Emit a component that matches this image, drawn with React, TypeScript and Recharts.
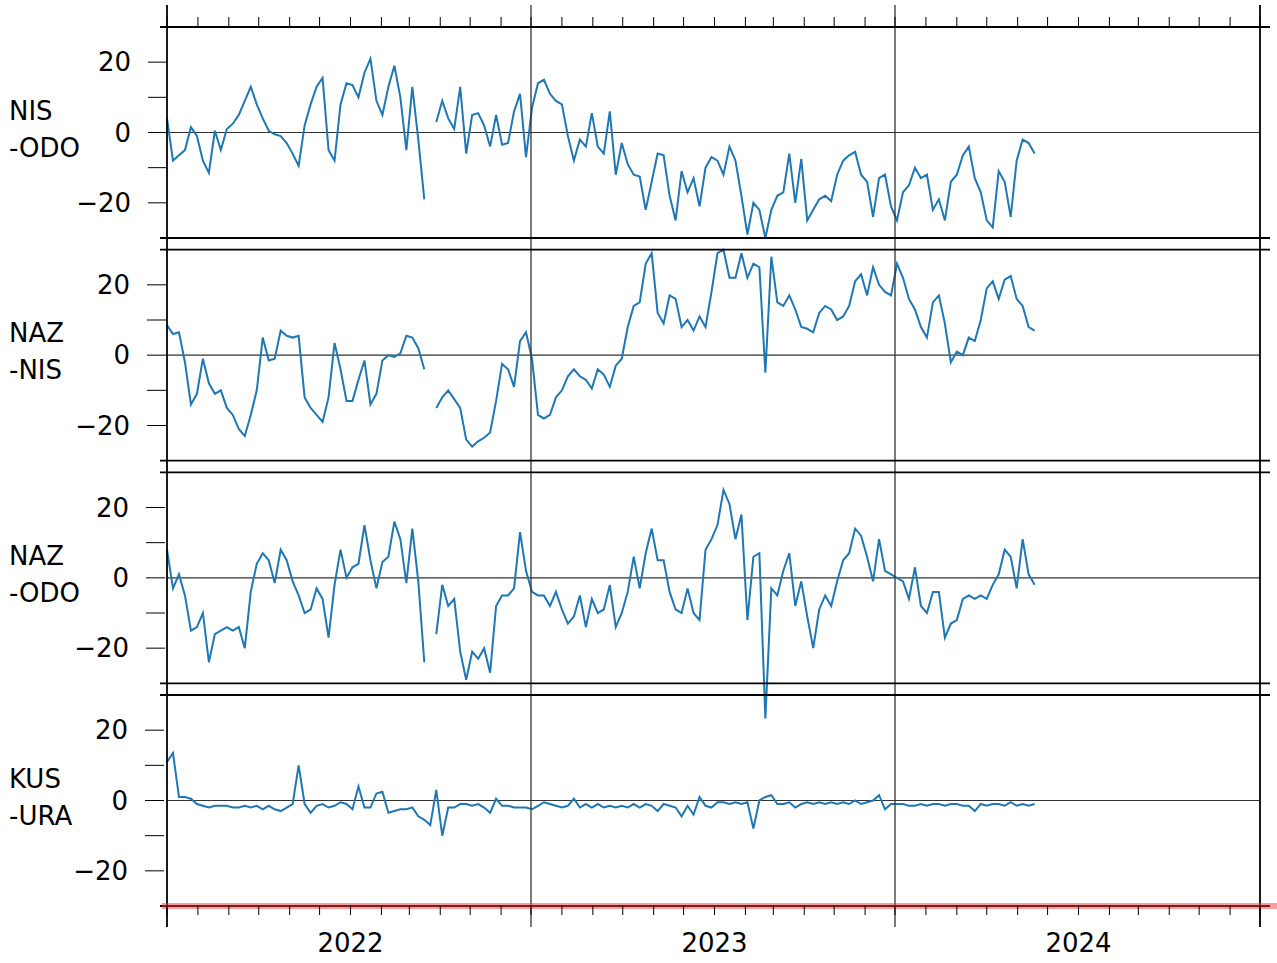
import { LineChart, Line, XAxis, YAxis, ReferenceLine } from "recharts";

const DAY = 86400000;
const START = Date.UTC(2021, 6, 1);
const END = Date.UTC(2024, 6, 1);
const STEP_DAYS = 6;

const panelNames = [
  ["NIS", "-ODO"],
  ["NAZ", "-NIS"],
  ["NAZ", "-ODO"],
  ["KUS", "-URA"],
];

// one value every 6 days from 2021-07-01
const nisOdo = [
  4, -8, -6.5, -5, 1.5, -1, -8, -11.5, 0.5, -5,
  1, 2.5, 5, 9, 13, 8, 4, 0.5, -0.5, -1,
  -3, -6, -9.5, 2, 8, 13, 15.5, -5, -8, 8,
  14, 13.5, 10, 17, 21, 9, 5, 13, 19, 10,
  -5, 13, -2, -19, null, 3, 9, 4, 1, 13,
  -6, 5, 5.5, 2, -4, 5, -3.5, -3, 6, 11,
  -7, 7, 14, 15, 11, 9, 8, -1, -8, -2,
  -4, 5.5, -4, -6, 6, -12, -3, -9, -12, -12.5,
  -22, -14, -6, -6.5, -18, -25, -11, -17, -13, -21,
  -10, -7, -8, -12, -4, -8, -18, -29, -20, -22,
  -30, -22, -18, -17, -6, -20, -7.5, -25, -22, -19,
  -18, -19.5, -12, -8, -6.5, -5.5, -12, -14, -24, -13,
  -12, -21, -25, -17, -15, -10, -13, -12, -22, -19,
  -25, -14, -12, -6.5, -4, -13, -17, -25, -27, -11,
  -14, -24, -8, -2, -3, -6,
];

const nazNis = [
  8.5, 6, 6.5, -2, -14, -11, -1, -8, -11, -10,
  -15, -17, -21, -23, -17, -10, 5, -1.5, -1, 7,
  5.5, 5, 5.5, -12, -15, -17, -19, -12, 3.5, -4,
  -13, -13, -7, -1.5, -14, -11, -1.5, 0, -0.5, 0.5,
  5.5, 5, 2, -4, null, -15, -12, -10, -12.5, -15,
  -24, -26, -24.5, -23.5, -22, -13, -2.5, -4, -9, 4,
  6.5, -1, -17, -18, -17, -12, -10, -6, -4, -6,
  -7, -9.5, -4, -5.5, -9, -3, -1, 8, 14, 15,
  26, 29, 12, 9, 17, 16, 8, 10, 7, 11,
  8, 18, 29, 30, 22, 22, 29, 22, 26, 25,
  -5, 28, 15, 14, 17, 13, 8, 7.5, 6.5, 12,
  14, 13, 10, 11, 14, 21, 23, 17, 25, 20,
  18, 17, 26, 22, 16, 13, 8, 5, 15, 17,
  9, -2, 1, 0, 5, 4, 10, 19, 21, 16,
  21.5, 22.5, 16, 14, 8, 7,
];

const nazOdo = [
  8, -3, 1, -5, -15, -14, -10, -24, -16, -15,
  -14, -15, -14, -20, -4, 4, 7, 5, -1.5, 8,
  5, -1, -5, -10, -9, -3, -6, -17, -2, 8,
  0, 3, 4, 15, 5, -3, 4.5, 6, 16, 11,
  -1.5, 14, -1, -24, null, -16, -2, -8, -6, -21,
  -29, -21, -23, -20, -27, -8, -5, -5, -3, 13,
  2, -4, -5, -5, -8, -4, -9, -13, -11, -5,
  -14, -6, -10, -9, -2, -14, -10, -4, 6, -3,
  7, 14, 5, 5, -4, -9, -10, -3, -10, -12,
  8, 11, 15, 25, 21, 11, 18, -12, 6, 7,
  -40, -3, -5, 2, 7, -8, -1, -11, -20, -9,
  -5, -8, -1, 5, 7, 14, 12, 6, -1, 11,
  2, 1, 0, -1, -6, 3, -8, -10, -4, -4,
  -17, -13, -12, -6, -5, -6, -5, -6, -2, 1,
  8, 6, -3, 11, 1, -2,
];

const kusUra = [
  11, 13.5, 1, 1, 0.5, -1, -1.5, -2, -1.5, -1.5,
  -1.5, -2, -2, -1.5, -2, -1.5, -2.5, -1.5, -2.5, -3,
  -2, -1, 10, -1, -3.5, -1.5, -1, -2, -1.5, -0.5,
  -1, -2.5, 4, -2, -2, 2, 2.5, -3.5, -3, -2.5,
  -2.5, -2, -4.5, -5.5, -7, 3, -10, -2, -2, -1,
  -1, -1.5, -1, -2, -3.5, 0.5, -1.5, -1.5, -2, -2,
  -2, -2.5, -1.5, -0.5, -1, -1.5, -2, -1.5, 0.5, -2,
  -1, -2, -1, -2, -1.5, -2, -1.5, -2, -1, -2,
  -1, -1.5, -3, -1, -1.5, -2, -4.5, -1.5, -4, 1,
  -1.5, -2, -0.5, -0.5, -1, -0.5, -1, -0.5, -8, 0,
  1, 1.5, -1, -1, -0.5, -2, -1, -0.5, -1, -0.5,
  -1, -0.5, -1, -0.5, -1, 0, -1, -0.5, 0, 1.5,
  -2.5, -1, -1, -1, -1.5, -1.5, -1, -1.5, -1, -1,
  -1.5, -1, -1, -1.5, -1.5, -3, -1, -1.5, -1, -1,
  -1.5, -0.5, -1.5, -1, -1.5, -1,
];

const yTicks = [-20, -10, 0, 10, 20];
const yearLabels = ["2022", "2023", "2024"];

const monthTicks: number[] = [];
for (let y = 2021; y <= 2024; y++) {
  for (let m = 0; m < 12; m++) {
    const t = Date.UTC(y, m, 1);
    if (t >= START && t <= END) monthTicks.push(t);
  }
}
const julyLines = [2021, 2022, 2023, 2024].map((y) => Date.UTC(y, 6, 1));

const data = nisOdo.map((_, i) => ({
  t: START + i * STEP_DAYS * DAY,
  s0: nisOdo[i],
  s1: nazNis[i],
  s2: nazOdo[i],
  s3: kusUra[i],
}));

// layout
const W = 1277;
const H = 963;
const LEFT = 167;
const RIGHT = 17;
const TOP = 27;
const PLOT_H = 879;
const PANEL_H = 211;
const GAP = (PLOT_H - 4 * PANEL_H) / 3;
const S = 60 / PANEL_H; // units per px

const domainFor = (k: number): [number, number] => {
  const hi = 30 + k * (PANEL_H + GAP) * S;
  return [hi - PLOT_H * S, hi];
};
const yPx = (px: number) => 30 - (px - TOP) * S; // on panel 0 axis
const xPx = (px: number) =>
  START + ((px - LEFT) / (W - LEFT - RIGHT)) * (END - START);

const FONT = "DejaVu Sans, sans-serif";
const BLUE = "#1f77b4";

const yearFormatter = (v: number) => {
  const d = new Date(v);
  if (d.getUTCMonth() !== 0) return "";
  return yearLabels[d.getUTCFullYear() - 2022] ?? "";
};
const yFormatter = (v: number) =>
  v === 10 || v === -10 ? "" : v < 0 ? `\u2212${-v}` : `${v}`;

export default function App() {
  return (
    <div style={{ position: "absolute", left: 0, top: 0, width: W, height: H, background: "#fff" }}>
      <LineChart
        width={W}
        height={H}
        data={data}
        margin={{ top: TOP - 1, right: RIGHT, bottom: H - TOP - PLOT_H - 1, left: LEFT - 4 }}
        style={{ fontFamily: FONT }}
      >
        <XAxis
          xAxisId="b"
          dataKey="t"
          type="number"
          domain={[START, END]}
          ticks={monthTicks}
          interval={0}
          height={1}
          axisLine={false}
          tickSize={9}
          tickMargin={19}
          stroke="#000"
          tickFormatter={yearFormatter}
          tick={{ fill: "#000", fontSize: 26, fontFamily: FONT }}
        />
        <XAxis
          xAxisId="t"
          orientation="top"
          dataKey="t"
          type="number"
          domain={[START, END]}
          ticks={monthTicks}
          interval={0}
          height={1}
          axisLine={false}
          tickSize={10}
          stroke="#000"
          tickFormatter={() => ""}
        />
        {[0, 1, 2, 3].map((k) => (
          <YAxis
            key={k}
            yAxisId={`p${k}`}
            type="number"
            domain={domainFor(k)}
            ticks={yTicks}
            interval={0}
            width={1}
            axisLine={false}
            tickSize={19}
            tickMargin={17}
            stroke="#000"
            tickFormatter={yFormatter}
            tick={{ fill: "#000", fontSize: 26, fontFamily: FONT }}
          />
        ))}
        {[0, 1, 2, 3].map((k) => (
          <ReferenceLine
            key={`z${k}`}
            xAxisId="b"
            yAxisId={`p${k}`}
            y={0}
            stroke="#333"
            strokeWidth={1.2}
          />
        ))}
        {[0, 1, 2, 3].map((k) => (
          <Line
            key={`l${k}`}
            xAxisId="b"
            yAxisId={`p${k}`}
            dataKey={`s${k}`}
            type="linear"
            stroke={BLUE}
            strokeWidth={2}
            dot={false}
            connectNulls={false}
            isAnimationActive={false}
          />
        ))}
        {julyLines.map((x, i) => (
          <ReferenceLine
            key={`v${i}`}
            xAxisId="b"
            yAxisId="p0"
            ifOverflow="visible"
            segment={[
              { x, y: yPx(5) },
              { x, y: yPx(927) },
            ]}
            stroke={i === 0 || i === 3 ? "#000" : "#333"}
            strokeWidth={i === 0 || i === 3 ? 1.8 : 1.3}
          />
        ))}
        {[0, 1, 2, 3].flatMap((k) =>
          [30, -30].map((y) => (
            <ReferenceLine
              key={`f${k}${y}`}
              xAxisId="b"
              yAxisId={`p${k}`}
              ifOverflow="visible"
              segment={[
                { x: xPx(160), y },
                { x: xPx(1270), y },
              ]}
              stroke="#000"
              strokeWidth={1.8}
            />
          ))
        )}
        <ReferenceLine
          xAxisId="b"
          yAxisId="p3"
          ifOverflow="visible"
          segment={[
            { x: xPx(162), y: -30 },
            { x: xPx(W), y: -30 },
          ]}
          stroke="rgba(240,60,60,0.5)"
          strokeWidth={6}
        />
      </LineChart>
      {panelNames.map((lines, k) => (
        <div
          key={k}
          style={{
            position: "absolute",
            left: 9,
            top: 92.5 + k * (PANEL_H + GAP),
            fontFamily: FONT,
            fontSize: 26,
            lineHeight: "37px",
            color: "#000",
            whiteSpace: "pre",
          }}
        >
          {lines[0]}
          <br />
          {lines[1]}
        </div>
      ))}
    </div>
  );
}
